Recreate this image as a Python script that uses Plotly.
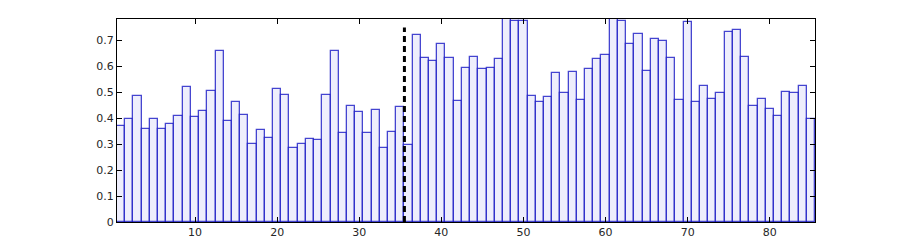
import plotly.graph_objects as go

values = [
    0.370, 0.396, 0.487, 0.360, 0.398, 0.357, 0.378, 0.407, 0.521, 0.406,
    0.429, 0.504, 0.659, 0.388, 0.461, 0.411, 0.302, 0.356, 0.323, 0.514,
    0.490, 0.284, 0.300, 0.321, 0.318, 0.491, 0.659, 0.345, 0.448, 0.425,
    0.344, 0.433, 0.284, 0.348, 0.445, 0.296, 0.722, 0.633, 0.622, 0.686,
    0.631, 0.466, 0.593, 0.635, 0.589, 0.593, 0.630, 0.790, 0.775, 0.775,
    0.486, 0.463, 0.482, 0.573, 0.497, 0.580, 0.472, 0.589, 0.629, 0.644,
    0.790, 0.777, 0.688, 0.727, 0.581, 0.704, 0.700, 0.634, 0.469, 0.771,
    0.461, 0.526, 0.474, 0.496, 0.732, 0.740, 0.635, 0.446, 0.474, 0.437,
    0.410, 0.503, 0.496, 0.523, 0.399,
]
categories = list(range(1, len(values) + 1))
split_x = 35.5
split_top = 0.75
x_ticks = [10, 20, 30, 40, 50, 60, 70, 80]
y_ticks = [0, 0.1, 0.2, 0.3, 0.4, 0.5, 0.6, 0.7]

fig = go.Figure()
fig.add_trace(go.Bar(
    x=categories, y=values, width=1,
    marker=dict(color="#eeeefc", line=dict(color="rgba(0,0,190,0.72)", width=1.3)),
))
fig.add_trace(go.Scatter(
    x=[split_x, split_x], y=[0, split_top], mode="lines",
    line=dict(color="black", width=3, dash="6px,4px"),
))

axis_common = dict(
    showline=True, linecolor="black", linewidth=1, mirror="ticks",
    ticks="inside", ticklen=5, tickcolor="black", showgrid=False, zeroline=False,
    tickfont=dict(family="DejaVu Sans", size=11, color="#262626"),
)
fig.update_layout(
    width=900, height=250, margin=dict(l=117, r=85, t=19, b=28),
    paper_bgcolor="white", plot_bgcolor="white", showlegend=False, bargap=0,
    xaxis=dict(range=[0.5, 85.5], tickvals=x_ticks, **axis_common),
    yaxis=dict(range=[0, 0.783], tickvals=y_ticks, ticktext=[str(v) for v in y_ticks], **axis_common),
)
fig.write_html("out.html")
